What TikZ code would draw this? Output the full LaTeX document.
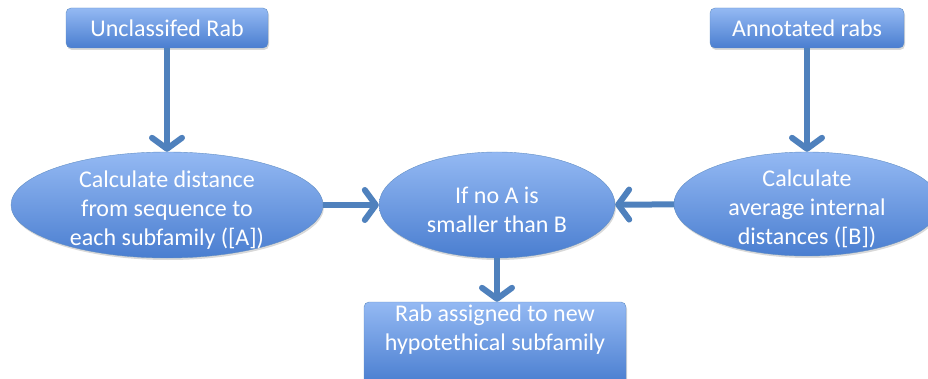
\documentclass[tikz,border=0pt]{standalone}
\usepackage{fontspec}
\setmainfont{Carlito}
\usetikzlibrary{shapes.geometric,arrows.meta,shadows}
\definecolor{rabtop}{HTML}{94B9F3}
\definecolor{rabbot}{HTML}{4A7ED0}
\definecolor{rabline}{HTML}{4F81BD}
\newcommand\rabgap{\rule{0pt}{26pt}}
\begin{document}
\begin{tikzpicture}[x=1pt,y=-1pt,
  rabtext/.style={text=white,align=center,font=\fontsize{24}{29}\selectfont},
  rabbox/.style={rectangle,rounded corners=5pt,draw=rabline!90,thin,top color=rabtop,bottom color=rabbot,rabtext,
    drop shadow={opacity=0.3,shadow xshift=1pt,shadow yshift=-2pt}},
  rabellipse/.style={rabbox,ellipse,inner xsep=0pt,inner ysep=-14pt},
  flow/.style={draw=rabline,line width=6pt,-{Straight Barb[length=11pt,width=30pt,round]}}]
 \useasboundingbox (0,0) rectangle (928,379);

 % sources
 \node[rabbox,minimum width=202pt,minimum height=40pt] (unclass) at (167,28) {Unclassifed Rab};
 \node[rabbox,minimum width=194pt,minimum height=40pt] (annot) at (807,28) {Annotated rabs};

 % calculations
 \node[rabellipse,minimum width=312pt,minimum height=106pt] (distA) at (167,205)
   {\rabgap Calculate distance\\from sequence to\\each subfamily ([A])};
 \node[rabellipse,minimum width=236pt,minimum height=106pt] (test) at (497,205)
   {\rabgap If no A is\\smaller than B};
 \node[rabellipse,minimum width=266pt,minimum height=104pt] (avgB) at (807,204)
   {\rabgap Calculate\\average internal\\distances ([B])};

 % result
 \node[rabbox,minimum width=262pt,minimum height=82pt] (newsub) at (495,343) {};
 \node[rabtext] (newsubtext) at ([yshift=13pt]newsub.center) {Rab assigned to new\\hypotethical subfamily};

 \draw[flow] (unclass) -- (distA);
 \draw[flow] (annot) -- (avgB);
 \draw[flow] (distA) -- (test);
 \draw[flow] (avgB) -- (test);
 \draw[flow] (test) -- (test |- newsub.north);
\end{tikzpicture}
\end{document}
